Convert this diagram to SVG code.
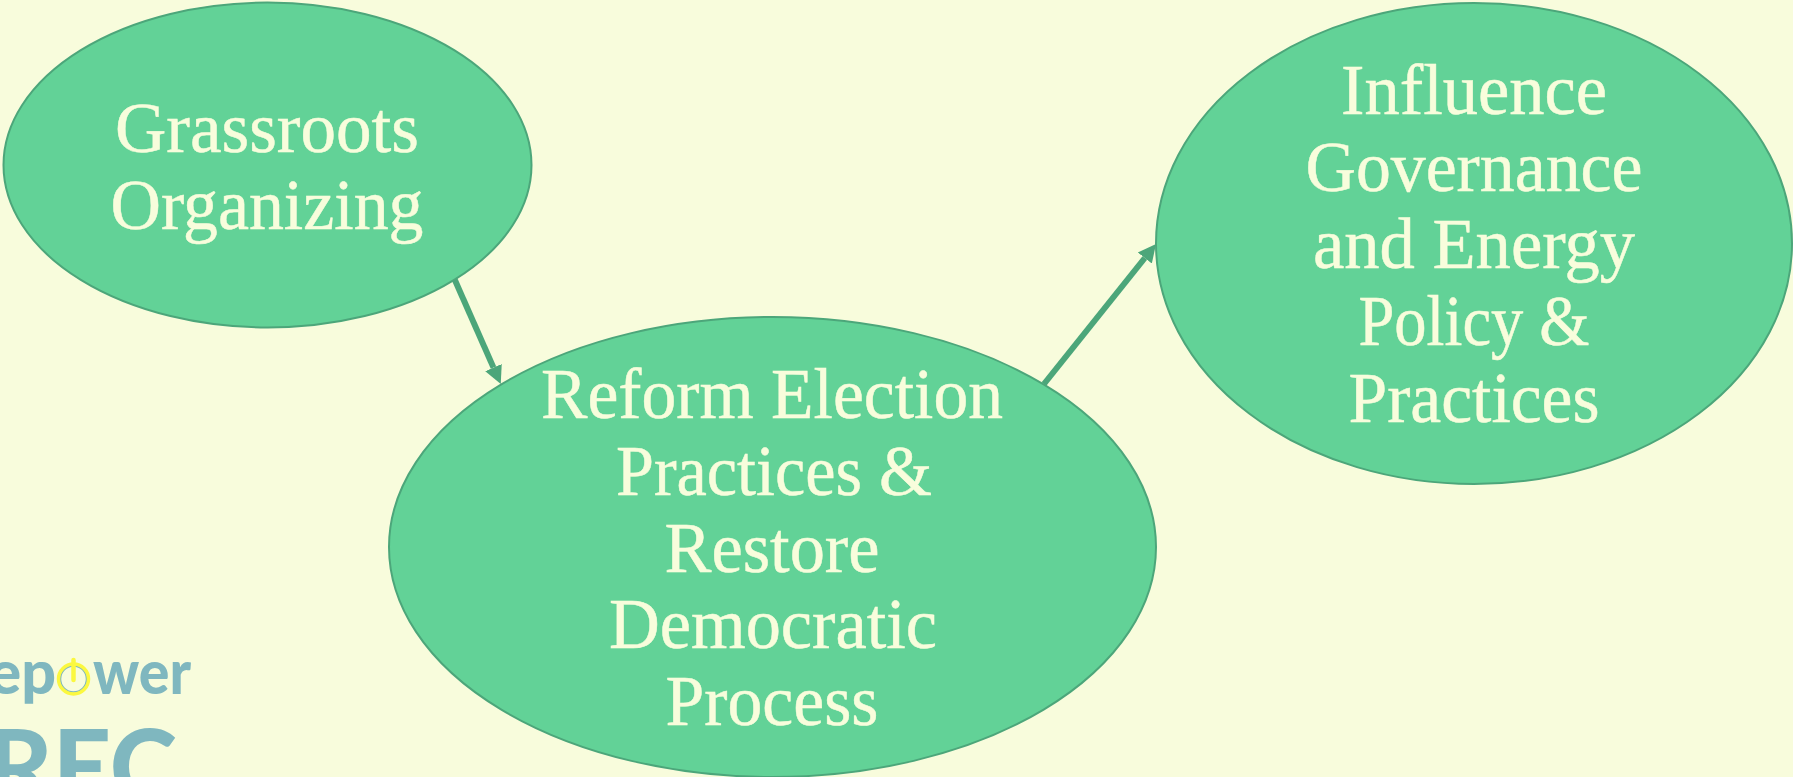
<svg xmlns="http://www.w3.org/2000/svg" width="1793" height="777" viewBox="0 0 1793 777">
<style>
.n{fill:#62D297;stroke:#4CA67A;stroke-width:2}
.t{font-family:"Liberation Serif",serif;font-size:71px;fill:#F8FDDC;stroke:#F8FDDC;stroke-width:.5;text-anchor:middle}
.c{stroke:#4CA67A;stroke-width:6;fill:none;marker-end:url(#h)}
.l{font-family:Lato,"Liberation Sans",sans-serif;font-weight:900;fill:#7FB7BF}
</style>
<defs><marker id="h" markerUnits="userSpaceOnUse" markerWidth="20" markerHeight="20" refX="0" refY="10" orient="auto"><path d="M0,1 L18,10 L0,19 Z" fill="#4CA67A"/></marker></defs>
<rect width="1793" height="777" fill="#F8FCDC"/>
<g id="logo">
<text class="l" x="56" y="694" font-size="61" text-anchor="end">ep</text>
<text class="l" x="93" y="694" font-size="61" textLength="98" lengthAdjust="spacingAndGlyphs">wer</text>
<circle cx="73.5" cy="679" r="13" fill="none" stroke="#7FB7BF" stroke-width="1.5"/>
<circle cx="73.5" cy="679" r="15" fill="none" stroke="#FBF83F" stroke-width="3.5"/>
<line x1="73.5" y1="660" x2="73.5" y2="680" stroke="#FBF83F" stroke-width="4.5" stroke-linecap="round"/>
<text class="l" x="177" y="804" font-size="102" text-anchor="end">REC</text>
</g>
<g id="connectors">
<line class="c" x1="454" y1="278" x2="493.5" y2="367.6"/>
<line class="c" x1="1044" y1="384" x2="1144.8" y2="258"/>
</g>
<g id="grassroots">
<ellipse class="n" cx="267.5" cy="165" rx="264" ry="162.5"/>
<text class="t" x="267" y="152" textLength="304" lengthAdjust="spacingAndGlyphs">Grassroots</text>
<text class="t" x="267" y="229" textLength="313" lengthAdjust="spacingAndGlyphs">Organizing</text>
</g>
<g id="reform">
<ellipse class="n" cx="772.5" cy="547" rx="383.5" ry="230"/>
<text class="t" x="772" y="418" textLength="462" lengthAdjust="spacingAndGlyphs">Reform Election</text>
<text class="t" x="774" y="495" textLength="316" lengthAdjust="spacingAndGlyphs">Practices &amp;</text>
<text class="t" x="772" y="572" textLength="215" lengthAdjust="spacingAndGlyphs">Restore</text>
<text class="t" x="773" y="648" textLength="328" lengthAdjust="spacingAndGlyphs">Democratic</text>
<text class="t" x="772" y="725" textLength="213" lengthAdjust="spacingAndGlyphs">Process</text>
</g>
<g id="influence">
<ellipse class="n" cx="1474" cy="243.5" rx="318" ry="240.5"/>
<text class="t" x="1474" y="114" textLength="266" lengthAdjust="spacingAndGlyphs">Influence</text>
<text class="t" x="1474" y="191" textLength="337" lengthAdjust="spacingAndGlyphs">Governance</text>
<text class="t" x="1474" y="268" textLength="322" lengthAdjust="spacingAndGlyphs">and Energy</text>
<text class="t" x="1474" y="345" textLength="231" lengthAdjust="spacingAndGlyphs">Policy &amp;</text>
<text class="t" x="1474" y="422" textLength="251" lengthAdjust="spacingAndGlyphs">Practices</text>
</g>
</svg>
